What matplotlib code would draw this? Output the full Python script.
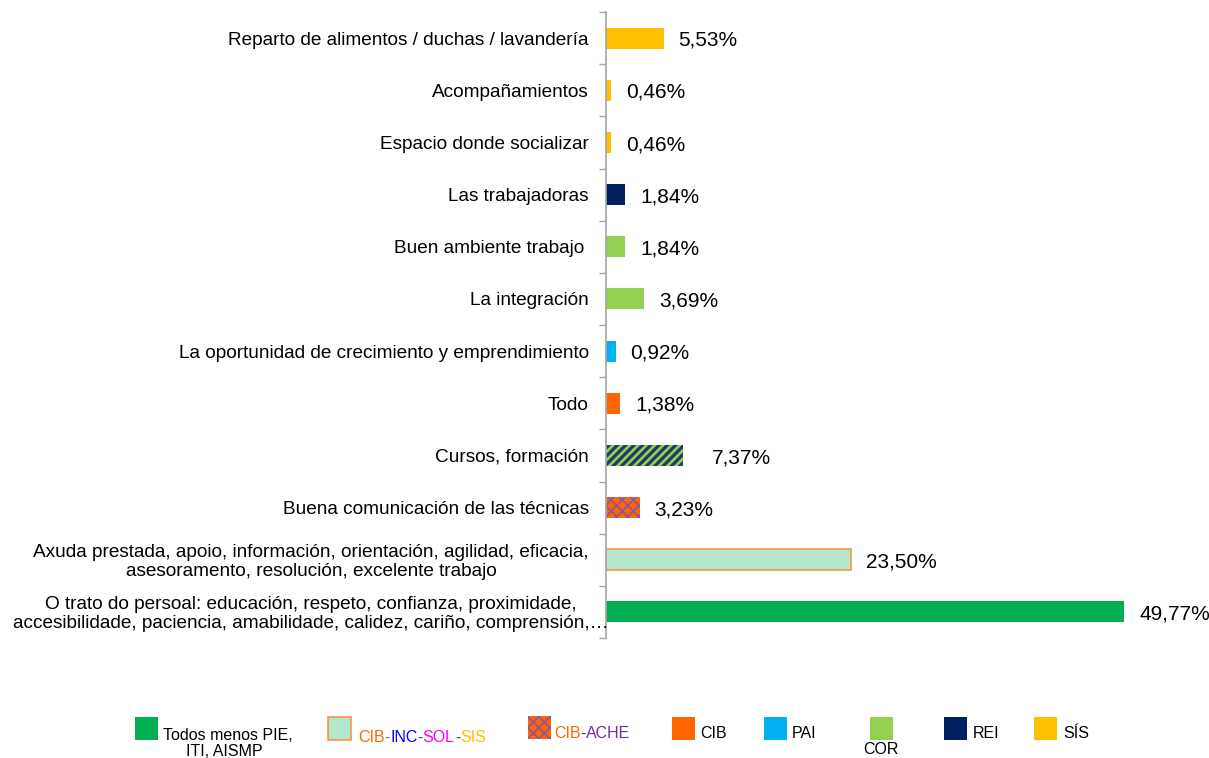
import matplotlib
matplotlib.use("Agg")
import matplotlib.pyplot as plt
from matplotlib.patches import Rectangle
import matplotlib.transforms as mtransforms

plt.rcParams['font.family'] = ['Liberation Sans', 'DejaVu Sans']

# ---- data (top to bottom) ----
categories = [
    "Reparto de alimentos / duchas / lavandería",
    "Acompañamientos",
    "Espacio donde socializar",
    "Las trabajadoras",
    "Buen ambiente trabajo ",
    "La integración",
    "La oportunidad de crecimiento y emprendimiento",
    "Todo",
    "Cursos, formación",
    "Buena comunicación de las técnicas",
    "Axuda prestada, apoio, información, orientación, agilidad, eficacia,\nasesoramento, resolución, excelente trabajo",
    "O trato do persoal: educación, respeto, confianza, proximidade,\naccesibilidade, paciencia, amabilidade, calidez, cariño, comprensión,…",
]
values = [5.53, 0.46, 0.46, 1.84, 1.84, 3.69, 0.92, 1.38, 7.37, 3.23, 23.50, 49.77]
value_labels = ["5,53%", "0,46%", "0,46%", "1,84%", "1,84%", "3,69%", "0,92%",
                "1,38%", "7,37%", "3,23%", "23,50%", "49,77%"]
groups = ["SÍS", "SÍS", "SÍS", "REI", "COR", "COR", "PAI", "CIB",
          "COR-REI", "CIB-ACHE", "CIB-INC-SOL-SIS", "Todos"]

legend_labels = ["Todos menos PIE,\nITI, AISMP", "CIB-INC-SOL-SIS", "CIB-ACHE",
                 "CIB", "PAI", "COR", "REI", "SÍS"]

# ---- styles ----
style = {
    "SÍS": dict(color="#FFC000"),
    "REI": dict(color="#002060"),
    "COR": dict(color="#92D050"),
    "PAI": dict(color="#00B0F0"),
    "CIB": dict(color="#FF6600"),
    "COR-REI": dict(facecolor="#1F3A6B", edgecolor="#92D050", hatch="////", linewidth=0),
    "CIB-ACHE": dict(facecolor="#FF6600", edgecolor="#8A55A8", hatch="xxx", linewidth=0),
    "CIB-INC-SOL-SIS": dict(facecolor="#B3E6CC", edgecolor="#F79646", linewidth=1.2),
    "Todos": dict(color="#00B050"),
}
hatch_lw = {"COR-REI": 1.9, "CIB-ACHE": 1.2}

W, H = 1209, 758
fig = plt.figure(figsize=(W / 100, H / 100), dpi=100)
ax_left, ax_right = 606 / W, 1.0
ax_top, ax_bot = 1 - 12 / H, 1 - 638 / H
ax = fig.add_axes([ax_left, ax_bot, ax_right - ax_left, ax_top - ax_bot])

n = len(categories)
for i, (v, g) in enumerate(zip(values, groups)):
    st = dict(style[g])
    lw = hatch_lw.get(g, 1.0)
    plt.rcParams['hatch.linewidth'] = lw
    b = ax.barh(i, v, height=0.4, **st)
    for p in b:
        try:
            p.set_hatch_linewidth(lw)
        except Exception:
            pass

ax.set_ylim(n - 0.5, -0.5)
ax.set_xlim(0, 57.9)

for s in ["top", "right", "bottom"]:
    ax.spines[s].set_visible(False)
ax.spines["left"].set_color("#A6A6A6")
ax.spines["left"].set_linewidth(1.2)
ax.set_xticks([])
ax.set_yticks([i - 0.5 for i in range(n + 1)])
ax.set_yticklabels([])
ax.tick_params(axis="y", length=5, color="#A6A6A6", width=1.0, direction="out")

# category labels
base = mtransforms.blended_transform_factory(ax.transAxes, ax.transData)
for i, c in enumerate(categories):
    off = 3 if i == n - 1 else -17
    t = base + mtransforms.ScaledTranslation(off / 100, -2 / 100, fig.dpi_scale_trans)
    ax.text(0, i, c, transform=t, ha="right", va="center", fontsize=13.7,
            multialignment="center", color="#000000", linespacing=1.15)

# value labels
for i, (v, lab) in enumerate(zip(values, value_labels)):
    off = 29 if groups[i] == "COR-REI" else 15
    t = ax.transData + mtransforms.ScaledTranslation(off / 100, 0, fig.dpi_scale_trans)
    ax.text(v, i + 0.04, lab, transform=t, ha="left", va="center", fontsize=15, color="#000000")

# ---- legend (manual) ----
def fx(px):
    return px / W

def fy(py):
    return 1 - py / H

sq = 23
leg_items = [
    (135, "Todos"), (328, "CIB-INC-SOL-SIS"), (528, "CIB-ACHE"), (672, "CIB"),
    (764, "PAI"), (870, "COR"), (944, "REI"), (1034, "SÍS"),
]
for (x0, g) in leg_items:
    st = dict(style[g])
    if "color" in st:
        st = dict(facecolor=st["color"], edgecolor="none", linewidth=0)
    y0 = 716 if g == "CIB-ACHE" else 717
    plt.rcParams['hatch.linewidth'] = hatch_lw.get(g, 1.0)
    r = Rectangle((fx(x0), fy(y0 + sq)), fx(sq), sq / H, transform=fig.transFigure, **st)
    if g == "CIB-ACHE":
        try:
            r.set_hatch_linewidth(1.2)
        except Exception:
            pass
    fig.add_artist(r)

lfs = 11.5
fig.text(fx(163), fy(735), "Todos menos PIE,", ha="left", va="center", fontsize=lfs)
fig.text(fx(224), fy(752), "ITI, AISMP", ha="center", va="center", fontsize=lfs)

renderer = fig.canvas.get_renderer()

def colored_text(x_px, y_px, parts):
    x = x_px
    for s, col in parts:
        t = fig.text(fx(x), fy(y_px), s, ha="left", va="center", fontsize=lfs, color=col)
        bb = t.get_window_extent(renderer=renderer)
        x += bb.width

colored_text(358, 738, [("CIB", "#FF6600"), ("-", "#3A8FA0"), ("INC", "#0000FF"), ("-", "#404040"),
                        ("SOL", "#FF00FF"), ("-", "#404040"), ("SIS", "#FFC000")])
colored_text(554, 734, [("CIB", "#FF6600"), ("-", "#404040"), ("ACHE", "#7030A0")])
fig.text(fx(700), fy(734), "CIB", ha="left", va="center", fontsize=lfs)
fig.text(fx(792), fy(734), "PAI", ha="left", va="center", fontsize=lfs)
fig.text(fx(881), fy(750), "COR", ha="center", va="center", fontsize=lfs)
fig.text(fx(973), fy(734), "REI", ha="left", va="center", fontsize=lfs)
fig.text(fx(1063), fy(734), "SÍS", ha="left", va="center", fontsize=lfs)

fig.savefig("out.png", dpi=100)
